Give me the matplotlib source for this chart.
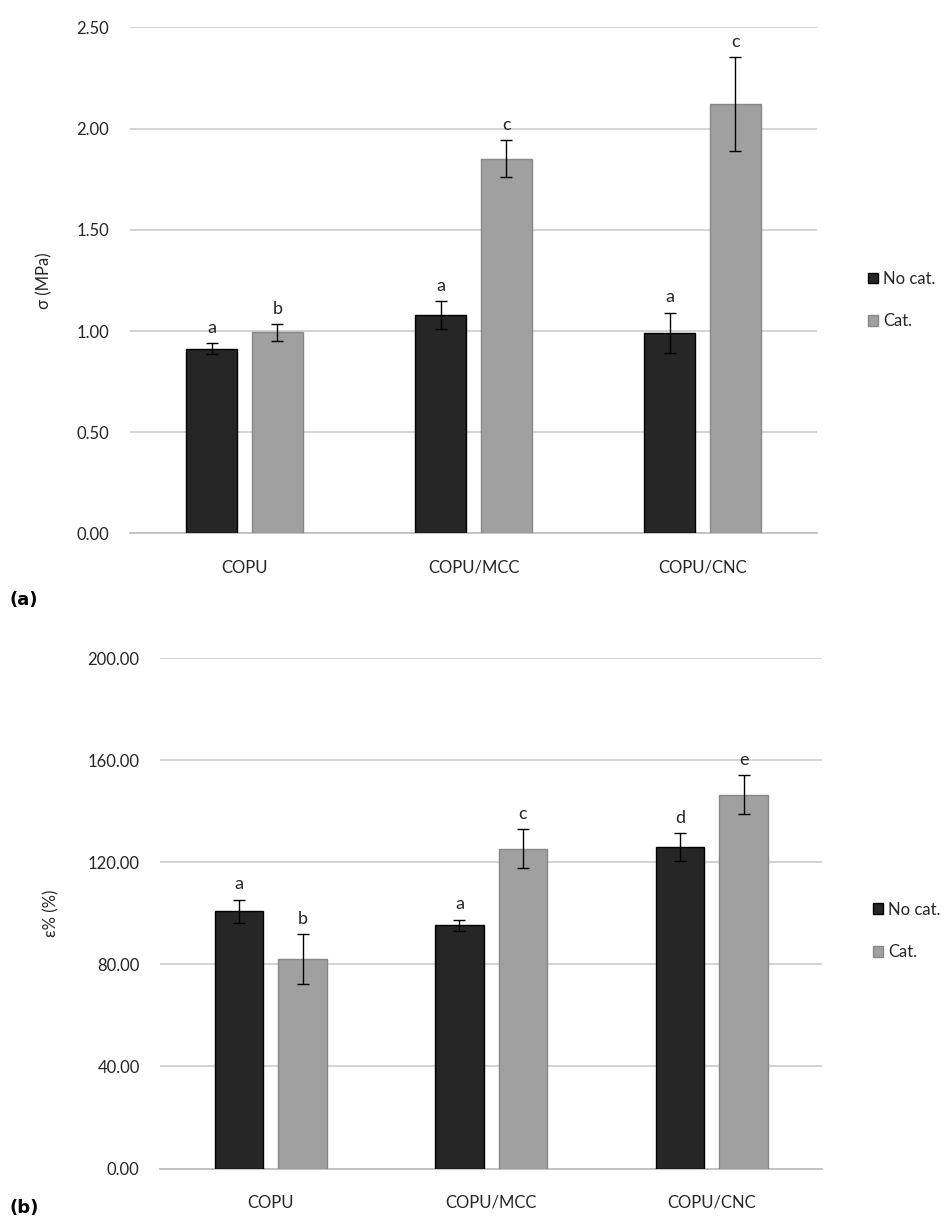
import matplotlib
matplotlib.use("Agg")
import matplotlib.pyplot as plt
import numpy as np
from matplotlib.patches import Patch

plt.rcParams['font.family'] = ['Lato', 'DejaVu Sans']

groups = ["COPU", "COPU/MCC", "COPU/CNC"]
series = ["No cat.", "Cat."]

# (a) tensile strength
sigma_nocat = [0.913, 1.078, 0.991]
sigma_cat = [0.993, 1.852, 2.121]
sigma_nocat_err = [0.027, 0.070, 0.100]
sigma_cat_err = [0.042, 0.089, 0.232]
sigma_nocat_lbl = ["a", "a", "a"]
sigma_cat_lbl = ["b", "c", "c"]

# (b) elongation at break
eps_nocat = [100.9, 95.4, 125.9]
eps_cat = [82.1, 125.3, 146.6]
eps_nocat_err = [4.5, 2.2, 5.5]
eps_cat_err = [9.8, 7.6, 7.5]
eps_nocat_lbl = ["a", "a", "d"]
eps_cat_lbl = ["b", "c", "e"]

dark = "#262626"
light = "#a0a0a0"
txt = "#262626"
W, H = 953, 1222
fs = 12

fig = plt.figure(figsize=(W / 100, H / 100), dpi=100)


def panel(rect, nocat, cat, nerr, cerr, nlbl, clbl, ymax, step, ylabel, lpad):
    ax = fig.add_axes(rect)
    x = np.arange(len(groups))
    w = 0.222
    off = 0.144
    for xs, vals, errs, lbls, col, ec in [
        (x - off, nocat, nerr, nlbl, dark, "#000000"),
        (x + off, cat, cerr, clbl, light, "#888888"),
    ]:
        ax.bar(xs, vals, w, color=col, edgecolor=ec, linewidth=1, zorder=3)
        ax.errorbar(xs, vals, yerr=errs, fmt="none", ecolor="black",
                    elinewidth=1, capsize=4.5, capthick=1, zorder=4)
        for xi, v, e, l in zip(xs, vals, errs, lbls):
            ax.annotate(l, (xi, v + e), xytext=(0, 7.5), textcoords="offset points",
                        ha="center", va="baseline", fontsize=13, color=txt)
    ax.set_xlim(-0.5, len(groups) - 0.5)
    ax.set_ylim(0, ymax)
    ax.set_yticks(np.arange(0, ymax + step / 2, step))
    ax.yaxis.set_major_formatter(plt.FuncFormatter(lambda v, p: "{:.2f}".format(v)))
    ax.set_xticks(x)
    ax.set_xticklabels(groups)
    ax.grid(axis="y", color="#d0d0d0", linewidth=1.3, zorder=0)
    for s in ["top", "right", "left"]:
        ax.spines[s].set_visible(False)
    ax.spines["bottom"].set_color("#c0c0c0")
    ax.spines["bottom"].set_linewidth(1.3)
    ax.tick_params(axis="both", length=0, labelsize=fs, colors=txt)
    ax.tick_params(axis="y", pad=15)
    ax.tick_params(axis="x", pad=19)
    ax.set_ylabel(ylabel, fontsize=fs, color=txt, labelpad=lpad)
    return ax


ax1 = panel([130 / W, 1 - 533.5 / H, 687 / W, 506.2 / H],
            sigma_nocat, sigma_cat, sigma_nocat_err, sigma_cat_err,
            sigma_nocat_lbl, sigma_cat_lbl, 2.5, 0.5, "σ (MPa)", 17)
ax2 = panel([160.5 / W, 1 - 1168.5 / H, 661.5 / W, 510.2 / H],
            eps_nocat, eps_cat, eps_nocat_err, eps_cat_err,
            eps_nocat_lbl, eps_cat_lbl, 200, 40, "ε% (%)", 20)

handles = [Patch(facecolor=dark, edgecolor="black"),
           Patch(facecolor=light, edgecolor="#888888")]
for ypix, xpix in [(300, 860), (931, 865)]:
    fig.legend(handles, series, loc="center left",
               bbox_to_anchor=(xpix / W, 1 - ypix / H), frameon=False,
               handlelength=0.6, handleheight=0.6, handletextpad=0.3,
               labelspacing=1.6, fontsize=fs, labelcolor=txt, borderpad=0)

fig.text(10 / W, 1 - 600 / H, "(a)", fontsize=13, fontweight="bold",
         family="DejaVu Sans", va="center")
fig.text(10 / W, 1 - 1208 / H, "(b)", fontsize=13, fontweight="bold",
         family="DejaVu Sans", va="center")

fig.savefig("out.png", dpi=100)
